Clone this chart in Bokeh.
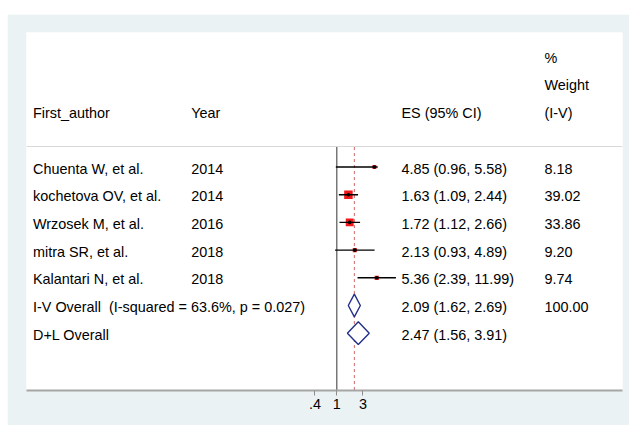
import math
from bokeh.plotting import figure
from bokeh.models import Range1d, FixedTicker, Span, Spacer, ColumnDataSource
from bokeh.layouts import column, row
from bokeh.core.properties import value
from bokeh.embed import file_html
from bokeh.resources import INLINE

# ---------------- data ----------------
authors = ["Chuenta W, et al.", "kochetova OV, et al.", "Wrzosek M, et al.",
           "mitra SR, et al.", "Kalantari N, et al."]
years = ["2014", "2014", "2016", "2018", "2018"]
es = [4.85, 1.63, 1.72, 2.13, 5.36]
ci_lo = [0.96, 1.09, 1.12, 0.93, 2.39]
ci_hi = [5.58, 2.44, 2.66, 4.89, 11.99]
weights = [8.18, 39.02, 33.86, 9.20, 9.74]

ov_labels = ["I-V Overall\u00a0 (I-squared = 63.6%, p = 0.027)", "D+L Overall"]
ov_es = [2.09, 2.47]
ov_lo = [1.62, 1.56]
ov_hi = [2.69, 3.91]
ov_weight = ["100.00", ""]

tick_vals = [0.4, 1, 3]
tick_labels = [".4", "1", "3"]

# ---------------- layout constants ----------------
FRAME_L, FRAME_R = 26.0, 622.0      # page px of plot frame
ONE_PX, PX_PER_LN = 336.3, 23.8
LN_LEFT = (FRAME_L - ONE_PX) / PX_PER_LN
LN_RIGHT = (FRAME_R - ONE_PX) / PX_PER_LN


def col_x(px):
    return math.exp(LN_LEFT + (px - FRAME_L) / PX_PER_LN)


X_AUTH, X_YEAR, X_ES, X_W = col_x(32.5), col_x(190.7), col_x(401.0), col_x(544.0)

FONT = value("Liberation Sans")
FS = "14.4px"

p = figure(width=622, height=411, x_axis_type="log",
           x_range=Range1d(math.exp(LN_LEFT), math.exp(LN_RIGHT)),
           y_range=Range1d(8.069, -4.856),
           y_axis_location=None, output_backend="svg", toolbar_location=None,
           min_border_left=19, min_border_right=7, min_border_top=18,
           min_border_bottom=35)
p.background_fill_color = "white"
p.border_fill_color = "#EAF2F3"
p.outline_line_color = None
p.grid.visible = False

# separator line
p.add_layout(Span(location=-0.74, dimension="width", line_color="#D9D9D9", line_width=1))

n = len(authors)
rows = list(range(n))
ov_rows = [n + i for i in range(len(ov_labels))]
bottom = 8.069

# reference line at 1 and overall dashed line
p.segment(x0=[1], y0=[-0.72], x1=[1], y1=[bottom], line_color="#555555", line_width=1.2)
p.segment(x0=[ov_es[0]], y0=[-0.72], x1=[ov_es[0]], y1=[bottom],
          line_color="#CC6666", line_width=1, line_dash="3 3")

# study CIs and boxes
src = ColumnDataSource(dict(y=rows, es=es, lo=ci_lo, hi=ci_hi,
                            size=[8.5 * math.sqrt(w / max(weights)) for w in weights]))
p.scatter(x="es", y="y", size="size", marker="square", source=src,
          fill_color="#F01818", line_color=None)
p.segment(x0="lo", y0="y", x1="hi", y1="y", source=src, line_color="black", line_width=1.4)
p.scatter(x="es", y="y", size=3.6, marker="circle", source=src,
          fill_color="black", line_color=None)

# diamonds
hh = 0.41
xs = [[lo_, e_, hi_, e_] for lo_, e_, hi_ in zip(ov_lo, ov_es, ov_hi)]
ys = [[r, r - hh, r, r + hh] for r in ov_rows]
p.patches(xs, ys, fill_color="white", line_color="#23308A", line_width=1.4)

# texts
all_rows = rows + ov_rows
labels = authors + ov_labels
es_txt = ["%.2f (%.2f, %.2f)" % t for t in zip(es + ov_es, ci_lo + ov_lo, ci_hi + ov_hi)]
w_txt = ["%.2f" % w for w in weights] + ov_weight

common = dict(text_font=FONT, text_font_size=FS, text_baseline="middle",
              text_align="left", text_color="black", y_offset=1.5)
p.text(x=[X_AUTH] * len(all_rows), y=all_rows, text=labels, **common)
p.text(x=[X_YEAR] * n, y=rows, text=years, **common)
p.text(x=[X_ES] * len(all_rows), y=all_rows, text=es_txt, **common)
p.text(x=[X_W] * len(all_rows), y=all_rows, text=w_txt, **common)

# headers
p.text(x=[X_AUTH, X_YEAR, X_ES, X_W, X_W, X_W], y=[-2, -2, -2, -2, -3, -4],
       text=["First_author", "Year", "ES (95% CI)", "(I-V)", "Weight", "%"], **common)

# axis
ax = p.xaxis[0]
ax.ticker = FixedTicker(ticks=tick_vals)
ax.major_label_overrides = {v: l for v, l in zip(tick_vals, tick_labels)}
ax.minor_tick_line_color = None
ax.axis_line_color = "#A6A6A6"
ax.axis_line_width = 2
ax.major_tick_line_color = "#8C8C8C"
ax.major_tick_in = 0
ax.major_tick_out = 5
ax.major_label_standoff = 3
ax.major_label_text_font = "Liberation Sans"
ax.major_label_text_font_size = FS
ax.major_label_text_color = "black"

layout = column(Spacer(width=629, height=14), row(Spacer(width=7, height=411), p))
open("out.html", "w").write(file_html(layout, INLINE))
